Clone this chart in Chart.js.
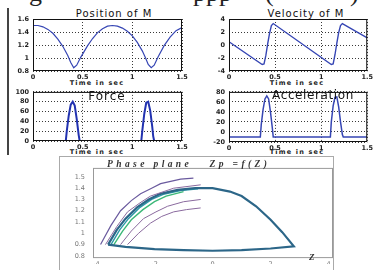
<!DOCTYPE html>
<html>
<head>
<meta charset="utf-8">
<script src="https://cdn.jsdelivr.net/npm/chart.js@4.4.1/dist/chart.umd.min.js"></script>
<style>
  body { margin: 0; width: 375px; height: 270px; overflow: hidden; background: #fff; position: relative; font-family: "DejaVu Sans", sans-serif; }
  canvas { position: absolute; }
  .t { position: absolute; white-space: nowrap; color: #111; line-height: 1; }
  .c { transform: translateX(-50%); }
  .lbl { font-size: 6.5px; font-weight: bold; letter-spacing: 1.2px; color: #222; }
  .ttl { font-size: 10px; letter-spacing: 1px; }
  .head { font-family: "Liberation Serif", serif; font-size: 26px; top: -20px; color: #222; }
  .serif { font-family: "Liberation Serif", "DejaVu Serif", serif; font-style: italic; font-weight: bold; color: #333; }
  .vline { position: absolute; background: #444; }
  .frame { position: absolute; background: #aaa; }
</style>
</head>
<body>
<div class="t head" style="left:29px">g</div>
<div class="t head" style="left:193px">ppp</div>
<div class="t head" style="left:265px">(</div>
<div class="t head" style="left:350px">)</div>
<div class="vline" style="left:7px;top:8px;width:1.5px;height:147px"></div>

<div class="t ttl c" style="left:114px;top:9px">Position of M</div>
<div class="t ttl c" style="left:306px;top:9px">Velocity of M</div>
<div class="t lbl c" style="left:97px;top:80px">Time in sec</div>
<div class="t lbl c" style="left:297px;top:80px">Time in sec</div>
<div class="t lbl c" style="left:97px;top:149px">Time in sec</div>
<div class="t lbl c" style="left:297px;top:149px">Time in sec</div>

<div class="frame" style="left:59px;top:156px;width:275px;height:1px"></div>
<div class="frame" style="left:59px;top:156px;width:1px;height:114px"></div>
<div class="frame" style="left:333px;top:156px;width:1px;height:114px"></div>

<canvas id="pos" width="190" height="84" style="left:0;top:0"></canvas>
<canvas id="vel" width="185" height="84" style="left:190px;top:0"></canvas>
<canvas id="force" width="190" height="70" style="left:0;top:84px"></canvas>
<canvas id="acc" width="185" height="70" style="left:190px;top:84px"></canvas>
<canvas id="phase" width="275" height="114" style="left:59px;top:156px"></canvas>

<div class="t c" style="left:107px;top:90px;font-size:12px;letter-spacing:1px">Force</div>
<div class="t c" style="left:313px;top:89px;font-size:12px;letter-spacing:0.6px">Acceleration</div>
<div class="t serif" style="left:107px;top:160px;font-size:9.5px;letter-spacing:3.4px">Phase plane&nbsp;&nbsp; Zp =f(Z)</div>
<div class="t serif" style="left:309px;top:253px;font-size:9px">Z</div>

<script>
// ticks
const timeTicks = [0, 0.5, 1, 1.5];
const posTicks = [0.8, 1, 1.2, 1.4, 1.6];
const velTicks = [-4, -2, 0, 2, 4];
const forceTicks = [0, 20, 40, 60, 80, 100];
const accTicks = [-20, 0, 20, 40, 60, 80];
const zTicks = [-4, -2, 0, 2, 4];
const zpTicks = [0.8, 0.9, 1, 1.1, 1.2, 1.3, 1.4, 1.5];

// Position of M
const posT = [0, 0.05, 0.1, 0.15, 0.2, 0.25, 0.3, 0.35, 0.38, 0.41, 0.44, 0.48, 0.55, 0.6, 0.65, 0.7, 0.75, 0.8, 0.85, 0.9, 0.95, 1.0, 1.05, 1.1, 1.13, 1.16, 1.19, 1.22, 1.26, 1.32, 1.38, 1.44, 1.5];
const posY = [1.50, 1.50, 1.48, 1.44, 1.38, 1.29, 1.18, 1.04, 0.93, 0.85, 0.89, 1.01, 1.19, 1.30, 1.39, 1.45, 1.49, 1.50, 1.49, 1.46, 1.41, 1.34, 1.24, 1.11, 1.01, 0.90, 0.85, 0.89, 1.02, 1.19, 1.32, 1.42, 1.47];

// Velocity of M
const velT = [0, 0.36, 0.38, 0.40, 0.42, 0.44, 0.46, 0.48, 1.11, 1.13, 1.15, 1.17, 1.19, 1.21, 1.23, 1.5];
const velY = [0.5, -3.0, -2.9, -1.6, 0.2, 1.8, 3.0, 3.3, -3.0, -2.9, -1.5, 0.3, 1.9, 3.0, 3.3, 1.1];

// Force
const forceT = [0, 0.33, 0.34, 0.36, 0.38, 0.40, 0.42, 0.44, 0.46, 0.47, 1.09, 1.10, 1.12, 1.14, 1.16, 1.18, 1.20, 1.21, 1.22, 1.5];
const forceY = [0, 0, 20, 52, 74, 80, 72, 45, 12, 0, 0, 20, 55, 78, 80, 62, 30, 10, 0, 0];
const forceBaseT = [0, 1.5];
const forceBaseY = [0, 0];

// Acceleration
const accT = [0, 0.34, 0.35, 0.37, 0.39, 0.41, 0.43, 0.45, 0.47, 0.48, 1.10, 1.11, 1.13, 1.15, 1.17, 1.19, 1.21, 1.23, 1.24, 1.5];
const accY = [-10, -10, 15, 45, 66, 72, 66, 40, 8, -10, -10, 20, 52, 69, 70, 50, 20, -5, -10, -10];

// Phase plane Zp = f(Z)
const mainZ = [-3.6, -3.3, -3.0, -2.6, -2.2, -1.8, -1.2, -0.6, 0, 0.6, 1.0, 1.5, 2.0, 2.4, 2.8, 2.0, 1.0, 0, -1.0, -2.0, -3.0, -3.6];
const mainZp = [0.9, 1.03, 1.13, 1.23, 1.30, 1.35, 1.385, 1.40, 1.40, 1.37, 1.33, 1.24, 1.12, 1.01, 0.885, 0.865, 0.85, 0.845, 0.85, 0.86, 0.88, 0.9];
const tealZ = [-3.5, -3.2, -2.9, -2.5, -2.1, -1.7, -1.1, -0.5];
const tealZp = [0.9, 1.03, 1.13, 1.23, 1.30, 1.345, 1.38, 1.395];
const greenZ = [-3.4, -3.1, -2.8, -2.4, -2.0, -1.6, -1.0];
const greenZp = [0.9, 1.02, 1.12, 1.21, 1.28, 1.33, 1.37];
const p1Z = [-3.86, -3.5, -3.17, -2.8, -2.48, -2.1, -1.79, -1.1, -0.66];
const p1Zp = [0.9, 1.07, 1.20, 1.29, 1.35, 1.40, 1.44, 1.48, 1.49];
const p2Z = [-3.69, -3.3, -2.93, -2.5, -2.14, -1.34, -0.41];
const p2Zp = [0.9, 1.06, 1.19, 1.27, 1.33, 1.40, 1.43];
const p3Z = [-3.17, -2.8, -2.38, -1.95, -1.55, -1.0, -0.41];
const p3Zp = [0.9, 1.02, 1.13, 1.19, 1.24, 1.28, 1.30];
const p4Z = [-2.93, -2.55, -2.14, -1.75, -1.34, -0.9, -0.41];
const p4Zp = [0.9, 1.0, 1.09, 1.15, 1.19, 1.21, 1.225];

function pts(xs, ys) {
    return xs.map((x, i) => ({ x: x, y: ys[i] }));
}

function line(xs, ys, color, width) {
    return { data: pts(xs, ys), showLine: true, pointRadius: 0, borderColor: color, borderWidth: width, tension: 0 };
}

// box round the plot area
const boxPlugin = {
    id: 'box',
    afterDatasetsDraw(chart, args, opts) {
        const a = chart.chartArea;
        const c = chart.ctx;
        c.save();
        c.strokeStyle = opts.color || '#000';
        c.lineWidth = 1;
        c.strokeRect(a.left + 0.5, a.top + 0.5, a.right - a.left - 1, a.bottom - a.top - 1);
        c.restore();
    }
};

// cl, ct = canvas position ; area = plot box in page pixels
function plot(id, cl, ct, area, datasets, xr, yr, xt, yt, style) {
    const cv = document.getElementById(id);
    const yw = area.l - cl;
    const xh = ct + cv.height - area.b;
    const tickFont = { family: 'DejaVu Sans', size: style.fontSize, weight: style.weight };
    const grid = style.grid ? { color: '#222', lineWidth: 0.9, drawTicks: false } : { display: false, drawTicks: false };
    return new Chart(cv, {
        type: 'scatter',
        data: { datasets: datasets },
        options: {
            responsive: false,
            animation: false,
            layout: { padding: { top: area.t - ct, right: cl + cv.width - area.r, left: 0, bottom: 0 } },
            plugins: { legend: { display: false }, tooltip: { enabled: false }, box: { color: style.boxColor } },
            scales: {
                x: {
                    type: 'linear', min: xr[0], max: xr[1],
                    afterFit(ax) { ax.height = xh; },
                    afterBuildTicks(ax) { ax.ticks = xt.map(v => ({ value: v })); },
                    ticks: { font: tickFont, color: style.tickColor, padding: style.xPad, maxRotation: 0, autoSkip: false, callback: v => String(v) },
                    grid: grid,
                    border: { display: false, dash: [1, 2] }
                },
                y: {
                    type: 'linear', min: yr[0], max: yr[1],
                    afterFit(ax) { ax.width = yw; },
                    afterBuildTicks(ax) { ax.ticks = yt.map(v => ({ value: v })); },
                    ticks: { font: tickFont, color: style.tickColor, padding: style.yPad, autoSkip: false, callback: v => String(v) },
                    grid: grid,
                    border: { display: false, dash: [1, 2] }
                }
            }
        },
        plugins: [boxPlugin]
    });
}

const topStyle = { fontSize: 6.5, weight: 'bold', tickColor: '#222', grid: true, xPad: 2, yPad: 4, boxColor: '#111' };

plot('pos', 0, 0, { l: 33, t: 19, r: 182, b: 71 },
    [line(posT, posY, '#3646b4', 1.2)], [0, 1.5], [0.8, 1.6], timeTicks, posTicks, topStyle);

plot('vel', 190, 0, { l: 229, t: 19, r: 371, b: 71 },
    [line(velT, velY, '#3646b4', 1.4)], [0, 1.5], [-4, 4], timeTicks, velTicks, topStyle);

plot('force', 0, 84, { l: 33, t: 91, r: 182, b: 141 },
    [line(forceBaseT, forceBaseY, '#2e9a3a', 1.5), line(forceT, forceY, '#2232b0', 2)], [0, 1.5], [0, 100], timeTicks, forceTicks, topStyle);

plot('acc', 190, 84, { l: 229, t: 91, r: 371, b: 142 },
    [line(accT, accY, '#3646b4', 1.5)], [0, 1.5], [-20, 80], timeTicks, accTicks, topStyle);

plot('phase', 59, 156, { l: 93, t: 156, r: 333, b: 264 },
    [
        line(p1Z, p1Zp, '#6a5a9e', 1.2),
        line(p2Z, p2Zp, '#8a6a9e', 1),
        line(p3Z, p3Zp, '#8a6a9e', 1),
        line(p4Z, p4Zp, '#8a6a9e', 1),
        line(mainZ, mainZp, '#2c6688', 2.2),
        line(tealZ, tealZp, '#2a9aa6', 1.4),
        line(greenZ, greenZp, '#3cb878', 1.4)
    ],
    [-4.12, 4.15], [0.78, 1.58], zTicks, zpTicks,
    { fontSize: 6.5, weight: 'normal', tickColor: '#777', grid: false, xPad: 2, yPad: 8, boxColor: '#999' });
</script>
</body>
</html>
